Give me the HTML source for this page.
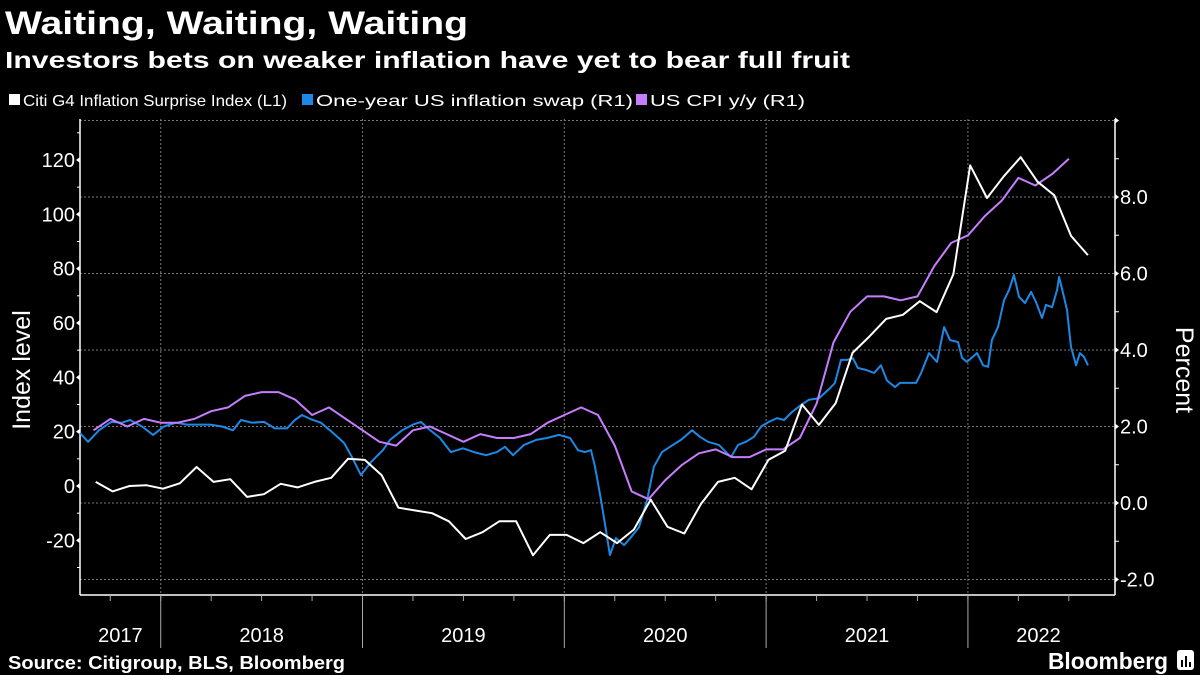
<!DOCTYPE html>
<html><head><meta charset="utf-8"><style>
html,body{margin:0;padding:0;background:#000;}
svg{display:block;}
text{font-family:"Liberation Sans",sans-serif;fill:#fff;}
</style></head><body>
<svg id="chart" width="1200" height="675" viewBox="0 0 1200 675" xmlns="http://www.w3.org/2000/svg">
<rect x="0" y="0" width="1200" height="675" fill="#000"/>
<text x="5" y="34" font-size="32" font-weight="bold" textLength="463" lengthAdjust="spacingAndGlyphs">Waiting, Waiting, Waiting</text>
<text x="5" y="68" font-size="23" font-weight="bold" textLength="845" lengthAdjust="spacingAndGlyphs">Investors bets on weaker inflation have yet to bear full fruit</text>
<g>
 <g><rect x="9" y="94" width="11" height="11" fill="#fff"/><text x="23" y="106" font-size="16" textLength="264" lengthAdjust="spacingAndGlyphs">Citi G4 Inflation Surprise Index  (L1)</text></g>
 <g><rect x="302" y="94" width="11" height="11" fill="#1e88e5"/><text x="316" y="106" font-size="16" textLength="317" lengthAdjust="spacingAndGlyphs">One-year US inflation swap (R1)</text></g>
 <g><rect x="636" y="94" width="11" height="11" fill="#c77dff"/><text x="650" y="106" font-size="16" textLength="155" lengthAdjust="spacingAndGlyphs">US CPI y/y (R1)</text></g>
</g>
<g id="grid"></g>
<g id="axes"></g>
<g id="series"></g>
<text transform="translate(30,370) rotate(-90)" text-anchor="middle" font-size="25">Index level</text>
<text transform="translate(1176,370) rotate(90)" text-anchor="middle" font-size="25">Percent</text>
<text x="8" y="669" font-size="18" font-weight="bold" textLength="337" lengthAdjust="spacingAndGlyphs">Source: Citigroup, BLS, Bloomberg</text>
<text x="1048" y="669" font-size="23" font-weight="bold" textLength="120" lengthAdjust="spacingAndGlyphs">Bloomberg</text>
<g><rect x="1177" y="650" width="17" height="20" rx="3" fill="#fff"/><rect x="1181" y="660" width="2" height="7" fill="#000"/><rect x="1185" y="656" width="2" height="11" fill="#000"/><rect x="1189" y="662" width="2" height="5" fill="#000"/></g>
<script>
const citiStart = 2017.678;
const citiValues = [1.5,-2,0,0.3,-1,1,7,1.5,2.5,-4,-3,0.8,-0.5,1.5,3,10,9.6,4,-8,-9,-10,-13,-19.5,-17,-13,-13,-25.5,-18,-18,-21,-17,-21,-16,-5,-15,-17.5,-6.5,1.5,3,-1.2,9.6,13,30,22.5,30.5,49,55,61.5,63,68,64,78,118,106,114,121,112,107,92,85];
const cpiStart = 2017.667;
const cpiValues = [1.9,2.2,2.0,2.2,2.1,2.1,2.2,2.4,2.5,2.8,2.9,2.9,2.7,2.3,2.5,2.2,1.9,1.6,1.5,1.9,2.0,1.8,1.6,1.8,1.7,1.7,1.8,2.1,2.3,2.5,2.3,1.5,0.3,0.1,0.6,1.0,1.3,1.4,1.2,1.2,1.4,1.4,1.7,2.6,4.2,5.0,5.4,5.4,5.3,5.4,6.2,6.8,7.0,7.5,7.9,8.5,8.3,8.6,9.0];
const swapDates = [2017.600,2017.640,2017.694,2017.754,2017.808,2017.848,2017.907,2017.962,2018.016,2018.076,2018.130,2018.190,2018.244,2018.304,2018.358,2018.398,2018.452,2018.512,2018.566,2018.626,2018.665,2018.700,2018.740,2018.794,2018.854,2018.908,2018.948,2018.992,2019.042,2019.101,2019.136,2019.196,2019.250,2019.290,2019.324,2019.384,2019.438,2019.498,2019.552,2019.612,2019.666,2019.706,2019.746,2019.800,2019.860,2019.914,2019.974,2020.028,2020.068,2020.102,2020.132,2020.152,2020.182,2020.206,2020.226,2020.256,2020.296,2020.330,2020.370,2020.410,2020.444,2020.484,2020.538,2020.578,2020.633,2020.672,2020.712,2020.766,2020.826,2020.861,2020.900,2020.940,2020.975,2021.014,2021.054,2021.089,2021.128,2021.183,2021.213,2021.262,2021.316,2021.341,2021.371,2021.401,2021.431,2021.455,2021.495,2021.535,2021.569,2021.599,2021.639,2021.663,2021.703,2021.743,2021.768,2021.807,2021.847,2021.882,2021.911,2021.951,2021.971,2021.995,2022.045,2022.075,2022.100,2022.119,2022.149,2022.179,2022.204,2022.228,2022.253,2022.283,2022.313,2022.337,2022.367,2022.387,2022.417,2022.442,2022.452,2022.471,2022.491,2022.511,2022.536,2022.555,2022.575,2022.595];
const swapValues = [1.83,1.6,1.9,2.12,2.1,2.17,2.0,1.78,2.0,2.1,2.05,2.05,2.05,2.0,1.9,2.17,2.1,2.12,1.95,1.95,2.17,2.3,2.2,2.1,1.83,1.57,1.2,0.73,1.07,1.38,1.65,1.9,2.05,2.12,1.95,1.7,1.33,1.43,1.33,1.25,1.33,1.47,1.25,1.52,1.65,1.7,1.78,1.7,1.38,1.33,1.38,0.95,0.08,-0.7,-1.36,-0.92,-1.1,-0.9,-0.63,0.08,0.95,1.33,1.52,1.65,1.9,1.73,1.6,1.52,1.2,1.52,1.6,1.73,2.0,2.12,2.22,2.17,2.38,2.6,2.7,2.74,3.0,3.14,3.74,3.74,3.78,3.53,3.48,3.4,3.6,3.2,3.03,3.14,3.14,3.14,3.4,3.92,3.69,4.6,4.26,4.21,3.79,3.69,3.92,3.6,3.56,4.26,4.6,5.3,5.57,5.96,5.39,5.23,5.52,5.26,4.84,5.18,5.12,5.57,5.91,5.49,5.05,4.08,3.6,3.92,3.82,3.6];
const leftTicks = [120,100,80,60,40,20,0,-20];
const leftTickLabels = ["120","100","80","60","40","20","0","-20"];
const rightTicks = [8,6,4,2,0,-2];
const rightTickLabels = ["8.0","6.0","4.0","2.0","0.0","-2.0"];
const yearLabels = ["2017","2018","2019","2020","2021","2022"];
const yearLabelCenters = [2017.8,2018.5,2019.5,2020.5,2021.5,2022.35];

const NS="http://www.w3.org/2000/svg";
const L=80,R=1115,T=119,B=595;
const xS=t=>80+(t-2017.6)*201.8;
const yL=v=>486-v*2.717;
const yR=v=>503-v*38.25;
function mk(tag,attrs,parent){const e=document.createElementNS(NS,tag);for(const k in attrs)e.setAttribute(k,attrs[k]);parent.appendChild(e);return e;}
const grid=document.getElementById('grid'),axes=document.getElementById('axes'),series=document.getElementById('series');

// horizontal gridlines at right ticks + top
[10,...rightTicks].forEach(v=>{
  const g=mk('line',{x1:L,x2:R,y1:yR(v),y2:yR(v),stroke:'#777','stroke-width':1,'stroke-dasharray':'2,2'},grid);
  
  
});
// vertical gridlines & year dividers
for(let yr=2018;yr<=2022;yr++){
  const g=mk('line',{x1:xS(yr),x2:xS(yr),y1:T,y2:B,stroke:'#777','stroke-width':1,'stroke-dasharray':'2,2'},grid);
  
  
  const d=mk('line',{x1:xS(yr),x2:xS(yr),y1:B,y2:648,stroke:'#aaa','stroke-width':1},axes);
  
  
}
// axis lines
let a=mk('line',{x1:L,x2:L,y1:T,y2:B,stroke:'#fff','stroke-width':1.5},axes);

a=mk('line',{x1:R,x2:R,y1:T,y2:B,stroke:'#fff','stroke-width':1.5},axes);

a=mk('line',{x1:L,x2:R,y1:B,y2:B,stroke:'#fff','stroke-width':1.5},axes);

// left minor ticks
for(let v=-30;v<=130;v+=20){
  const t=mk('line',{x1:L-3,x2:L,y1:yL(v),y2:yL(v),stroke:'#fff','stroke-width':1},axes);
  
}
leftTicks.forEach((v,i)=>{
  const t=mk('path',{d:`M${L} ${yL(v)-3} L${L-4} ${yL(v)} L${L} ${yL(v)+3} Z`,fill:'#fff'},axes);
  
  const tx=mk('text',{x:L-5,y:yL(v)+7,'text-anchor':'end','font-size':20},axes);
  tx.textContent=leftTickLabels[i];
  
});
for(let v=-1;v<=9;v+=2){
  const t=mk('line',{x1:R,x2:R+4,y1:yR(v),y2:yR(v),stroke:'#fff','stroke-width':1},axes);
  
}
{const t=mk('path',{d:`M${R} ${yR(10)-3} L${R+4} ${yR(10)} L${R} ${yR(10)+3} Z`,fill:'#fff'},axes);
}
rightTicks.forEach((v,i)=>{
  const t=mk('path',{d:`M${R} ${yR(v)-3} L${R+4} ${yR(v)} L${R} ${yR(v)+3} Z`,fill:'#fff'},axes);
  
  const tx=mk('text',{x:R+5,y:yR(v)+7,'font-size':20},axes);
  tx.textContent=rightTickLabels[i];
  
});
// quarter ticks
for(let q=2017.75;q<=2022.6;q+=0.25){
  const t=mk('line',{x1:xS(q),x2:xS(q),y1:B,y2:B+6,stroke:'#aaa','stroke-width':1},axes);
  
}
yearLabels.forEach((s,i)=>{
  const tx=mk('text',{x:xS(yearLabelCenters[i]),y:642,'text-anchor':'middle','font-size':20},axes);
  tx.textContent=s;
  
});
function line(pts,color,w,name){
  const p=mk('polyline',{points:pts.map(p=>p[0].toFixed(1)+','+p[1].toFixed(1)).join(' '),fill:'none',stroke:color,'stroke-width':w,'stroke-linejoin':'round'},series);
  
  
}
line(swapDates.map((t,i)=>[xS(t),yR(swapValues[i])]),'#1e88e5',2,'swap-line');
line(cpiValues.map((v,i)=>[xS(cpiStart+i/12),yR(v)]),'#c77dff',2,'cpi-line');
line(citiValues.map((v,i)=>[xS(citiStart+i/12),yL(v)]),'#ffffff',2,'citi-line');
</script>
</svg>
</body></html>
